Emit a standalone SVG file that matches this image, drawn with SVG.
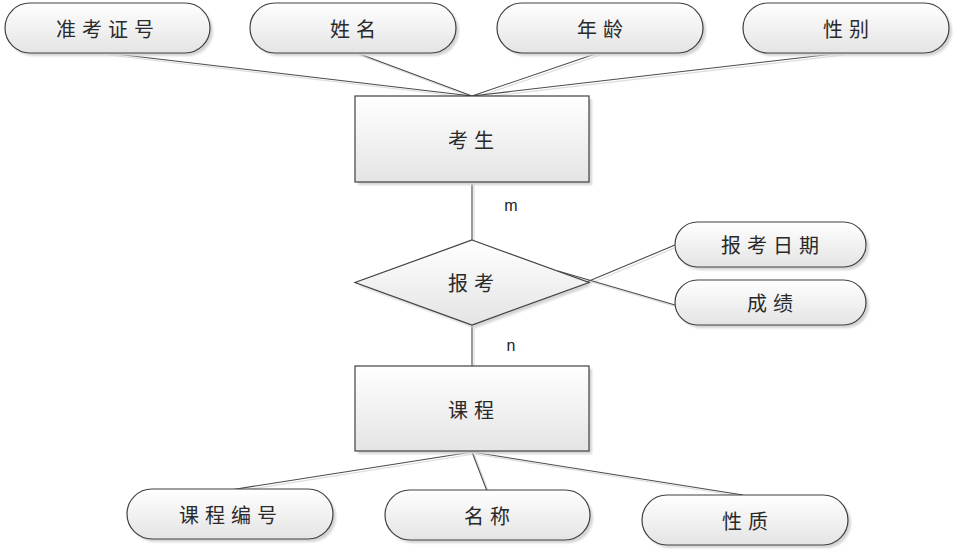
<svg xmlns="http://www.w3.org/2000/svg" width="961" height="552" viewBox="0 0 961 552">
<defs>
<linearGradient id="g" x1="0" y1="0" x2="0" y2="1">
<stop offset="0" stop-color="#ffffff"/>
<stop offset="1" stop-color="#e4e4e4"/>
</linearGradient>
<filter id="sh" x="-10%" y="-10%" width="130%" height="140%">
<feGaussianBlur stdDeviation="1.2"/>
</filter>
</defs>
<style>
.shape{fill:url(#g);stroke:#404040;stroke-width:1.2}
.shadow{fill:#d4d4d4;filter:url(#sh)}
.t{font-family:"Noto Sans CJK SC","Noto Sans",sans-serif;font-size:20px;fill:#2a2a2a;text-anchor:middle;dominant-baseline:central;letter-spacing:6px}
.c{stroke:#4a4a4a;stroke-width:1.1;fill:none}
.cs{stroke:#dcdcdc;stroke-width:1.2;fill:none}
.lbl{font-family:"Liberation Sans",Arial,sans-serif;font-size:16px;fill:#222;text-anchor:middle;dominant-baseline:central}
</style>
<rect width="961" height="552" fill="#ffffff"/>
<g id="connectors">
<g transform="translate(2,2)">
<path class="cs" d="M107 53 L472 96 M357 53 L472 96 M598 53 L472 96 M842 53 L472 96 M472 182 L472 240 M472 325 L472 366 M558 294 L675 245 M558 271 L675 305 M472 452 L230 490 M472 452 L487 491 M472 452 L743 495"/>
</g>
<path class="c" d="M107 53 L472 96 M357 53 L472 96 M598 53 L472 96 M842 53 L472 96"/>
<path class="c" d="M472 182 L472 240"/>
<path class="c" d="M472 325 L472 366"/>
<path class="c" d="M558 294 L675 245"/>
<path class="c" d="M558 271 L675 305"/>
<path class="c" d="M472 452 L230 490 M472 452 L487 491 M472 452 L743 495"/>
</g>
<g id="attr-zkzh">
<rect class="shadow" x="8" y="6" width="205" height="50" rx="25"/>
<rect class="shape" x="5" y="3" width="205" height="50" rx="25"/>
<text class="t" x="108" y="28">准考证号</text>
</g>
<g id="attr-xm">
<rect class="shadow" x="253" y="6" width="206" height="50" rx="25"/>
<rect class="shape" x="250" y="3" width="206" height="50" rx="25"/>
<text class="t" x="356" y="28">姓名</text>
</g>
<g id="attr-nl">
<rect class="shadow" x="500" y="6" width="206" height="50" rx="25"/>
<rect class="shape" x="497" y="3" width="206" height="50" rx="25"/>
<text class="t" x="603" y="28">年龄</text>
</g>
<g id="attr-xb">
<rect class="shadow" x="746" y="6" width="206" height="50" rx="25"/>
<rect class="shape" x="743" y="3" width="206" height="50" rx="25"/>
<text class="t" x="849" y="28">性别</text>
</g>
<g id="entity-ks">
<rect class="shadow" x="358" y="99" width="234" height="86"/>
<rect class="shape" x="355" y="96" width="234" height="86"/>
<text class="t" x="474" y="139">考生</text>
</g>
<text class="lbl" x="511" y="205">m</text>
<g id="rel-bk">
<polygon class="shadow" points="475,243 592,285.5 475,328 358,285.5"/>
<polygon class="shape" points="472,240 589,282.5 472,325 355,282.5"/>
<text class="t" x="474" y="282">报考</text>
</g>
<text class="lbl" x="511" y="345">n</text>
<g id="attr-bkrq">
<rect class="shadow" x="678" y="225" width="191" height="45" rx="22.5"/>
<rect class="shape" x="675" y="222" width="191" height="45" rx="22.5"/>
<text class="t" x="773" y="244">报考日期</text>
</g>
<g id="attr-cj">
<rect class="shadow" x="678" y="283" width="191" height="45" rx="22.5"/>
<rect class="shape" x="675" y="280" width="191" height="45" rx="22.5"/>
<text class="t" x="773" y="302">成绩</text>
</g>
<g id="entity-kc">
<rect class="shadow" x="358" y="369" width="234" height="85"/>
<rect class="shape" x="355" y="366" width="234" height="85"/>
<text class="t" x="474" y="409">课程</text>
</g>
<g id="attr-kcbh">
<rect class="shadow" x="130" y="492" width="206" height="50" rx="25"/>
<rect class="shape" x="127" y="489" width="206" height="50" rx="25"/>
<text class="t" x="231" y="514">课程编号</text>
</g>
<g id="attr-mc">
<rect class="shadow" x="388" y="493" width="205" height="50" rx="25"/>
<rect class="shape" x="385" y="490" width="205" height="50" rx="25"/>
<text class="t" x="490" y="515">名称</text>
</g>
<g id="attr-xz">
<rect class="shadow" x="645" y="498" width="206" height="50" rx="25"/>
<rect class="shape" x="642" y="495" width="206" height="50" rx="25"/>
<text class="t" x="748" y="520">性质</text>
</g>
</svg>
